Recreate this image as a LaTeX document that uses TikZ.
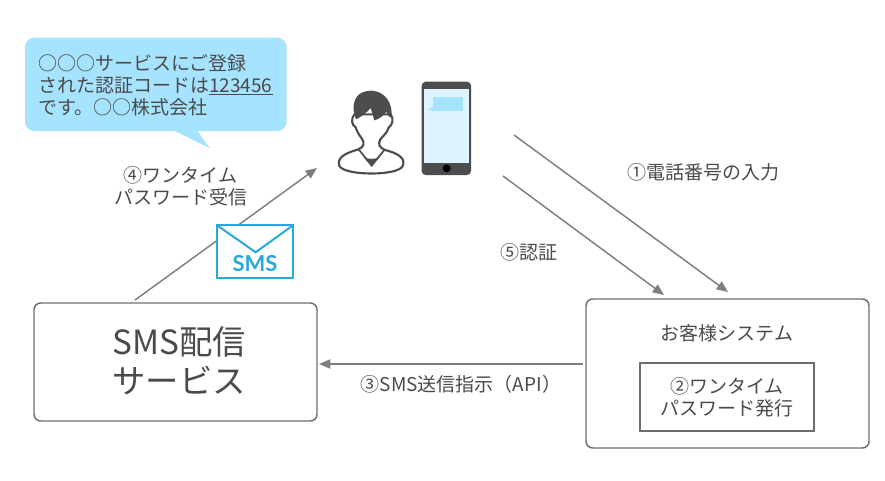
\documentclass[tikz,border=0pt]{standalone}
\usepackage{fontspec}
\setmainfont{Noto Sans CJK JP}
\newfontfamily\smsfont{Lato}
\usetikzlibrary{arrows.meta}
\definecolor{txt}{HTML}{4A4A4A}
\definecolor{linegray}{HTML}{7F7F7F}
\definecolor{bubble}{HTML}{A6E3FF}
\definecolor{screen}{HTML}{DFF4FF}
\definecolor{dark}{HTML}{4D4D4D}
\definecolor{boxgray}{HTML}{6E6E6E}
\definecolor{envblue}{HTML}{29A8E0}
\tikzset{
  lbl/.style={text=txt,font=\fontsize{14.25}{16.6}\selectfont,align=center,inner sep=0pt},
  biglbl/.style={text=txt,font=\fontsize{25}{29.3}\selectfont,align=center,inner sep=0pt},
  conn/.style={draw=linegray,line width=1.1pt,-{Triangle[length=8.5pt,width=7pt]}},
  panel/.style={draw=boxgray,line width=1.1pt,rounded corners=5pt,fill=white},
  inner/.style={draw=boxgray,line width=1pt,fill=white},
  env/.style={draw=envblue,line width=1.5pt,line join=miter},
}
\begin{document}
\begin{tikzpicture}[x=.75pt,y=-.75pt]
\useasboundingbox (0,0) rectangle (885,480);
% free ends
\coordinate (a1s) at (514,135);
\coordinate (a1e) at (728,292);
\coordinate (a5s) at (503,176);
\coordinate (a5e) at (664,295);
\coordinate (a4s) at (135,300);
\coordinate (a4e) at (317,168);
\coordinate (a3s) at (583,364);
\coordinate (a3e) at (319,364);
% connectors
\draw[conn] (a1s) -- (a1e);
\draw[conn] (a5s) -- (a5e);
\draw[conn] (a4s) -- (a4e);
\draw[conn] (a3s) -- (a3e);
% boxes
\path[panel] (34,303) rectangle (317,421);
\path[panel] (586,299) rectangle (869,448);
\path[inner] (640,363) rectangle (814,431);
% bubble
\fill[bubble,rounded corners=7pt] (25,37.7) rectangle (286.7,131);
\fill[bubble] (173,130) -- (210,148.3) -- (196.7,130) -- cycle;
\node[lbl,anchor=west,align=left] (msg) at (38,85) {○○○サービスにご登録\\された認証コードは\underline{123456}\\です。○○株式会社};
% labels
\node[lbl] (l1) at (703.5,172) {①電話番号の入力};
\node[lbl] (l4) at (180.5,186) {④ワンタイム\\パスワード受信};
\node[lbl] (l5) at (529,252) {⑤認証};
\node[lbl] (l3) at (461,384) {③SMS送信指示（API）};
\node[lbl] (l6) at (727,333) {お客様システム};
\node[lbl] (l2) at (727,397) {②ワンタイム\\パスワード発行};
\node[biglbl] (sms) at (179,361) {SMS配信\\サービス};
% envelope
\path[env,fill=white] (216.7,225) rectangle (293.3,278.3);
\draw[env] (216.7,225) -- (255.7,252.3) -- (293.3,225);
\node[text=envblue,font=\smsfont\bfseries\fontsize{16.5}{18}\selectfont,inner sep=0pt] (smsicon) at (255,263.5) {SMS};
% person and phone (coordinates from a 3x crop at 320,70)
\begin{scope}[shift={(320,70)},x=.25pt,y=-.25pt]
 \draw[draw=dark,line width=1.6pt,fill=white,line join=round]
  (58,288) .. controls (50,262) and (75,250) .. (115,238)
  .. controls (132,232) and (135,218) .. (125,205)
  .. controls (115,192) and (110,182) .. (107,172)
  .. controls (95,165) and (92,148) .. (103,133)
  -- (212,133)
  .. controls (222,146) and (218,165) .. (206,172)
  .. controls (202,190) and (188,198) .. (181,208)
  .. controls (173,222) and (178,233) .. (195,240)
  .. controls (235,250) and (258,265) .. (248,288)
  .. controls (235,318) and (75,318) .. (58,288) -- cycle;
 \fill[dark] (103,133) .. controls (95,95) and (108,62) .. (155,62)
  .. controls (195,64) and (220,100) .. (214,142)
  .. controls (208,144) and (203,135) .. (199,125)
  .. controls (192,135) and (178,148) .. (163,151)
  -- (152,114)
  .. controls (140,128) and (122,142) .. (108,148) -- cycle;
 \fill[dark] (131,262) -- (155,287) -- (178,262) .. controls (165,268) and (145,268) .. (131,262) -- cycle;
 \draw[draw=dark,line width=1.3pt] (116,238) -- (155,287) -- (192,241);
 % phone
 \fill[dark,rounded corners=3pt] (305,35) rectangle (453,315);
 \fill[screen] (313,58) rectangle (446,280);
 \fill[black] (380,295) circle (12);
 \fill[bubble] (338,82) rectangle (430,123);
 \fill[bubble] (342,108) -- (322,120) -- (342,123) -- cycle;
\end{scope}
\end{tikzpicture}
\end{document}
